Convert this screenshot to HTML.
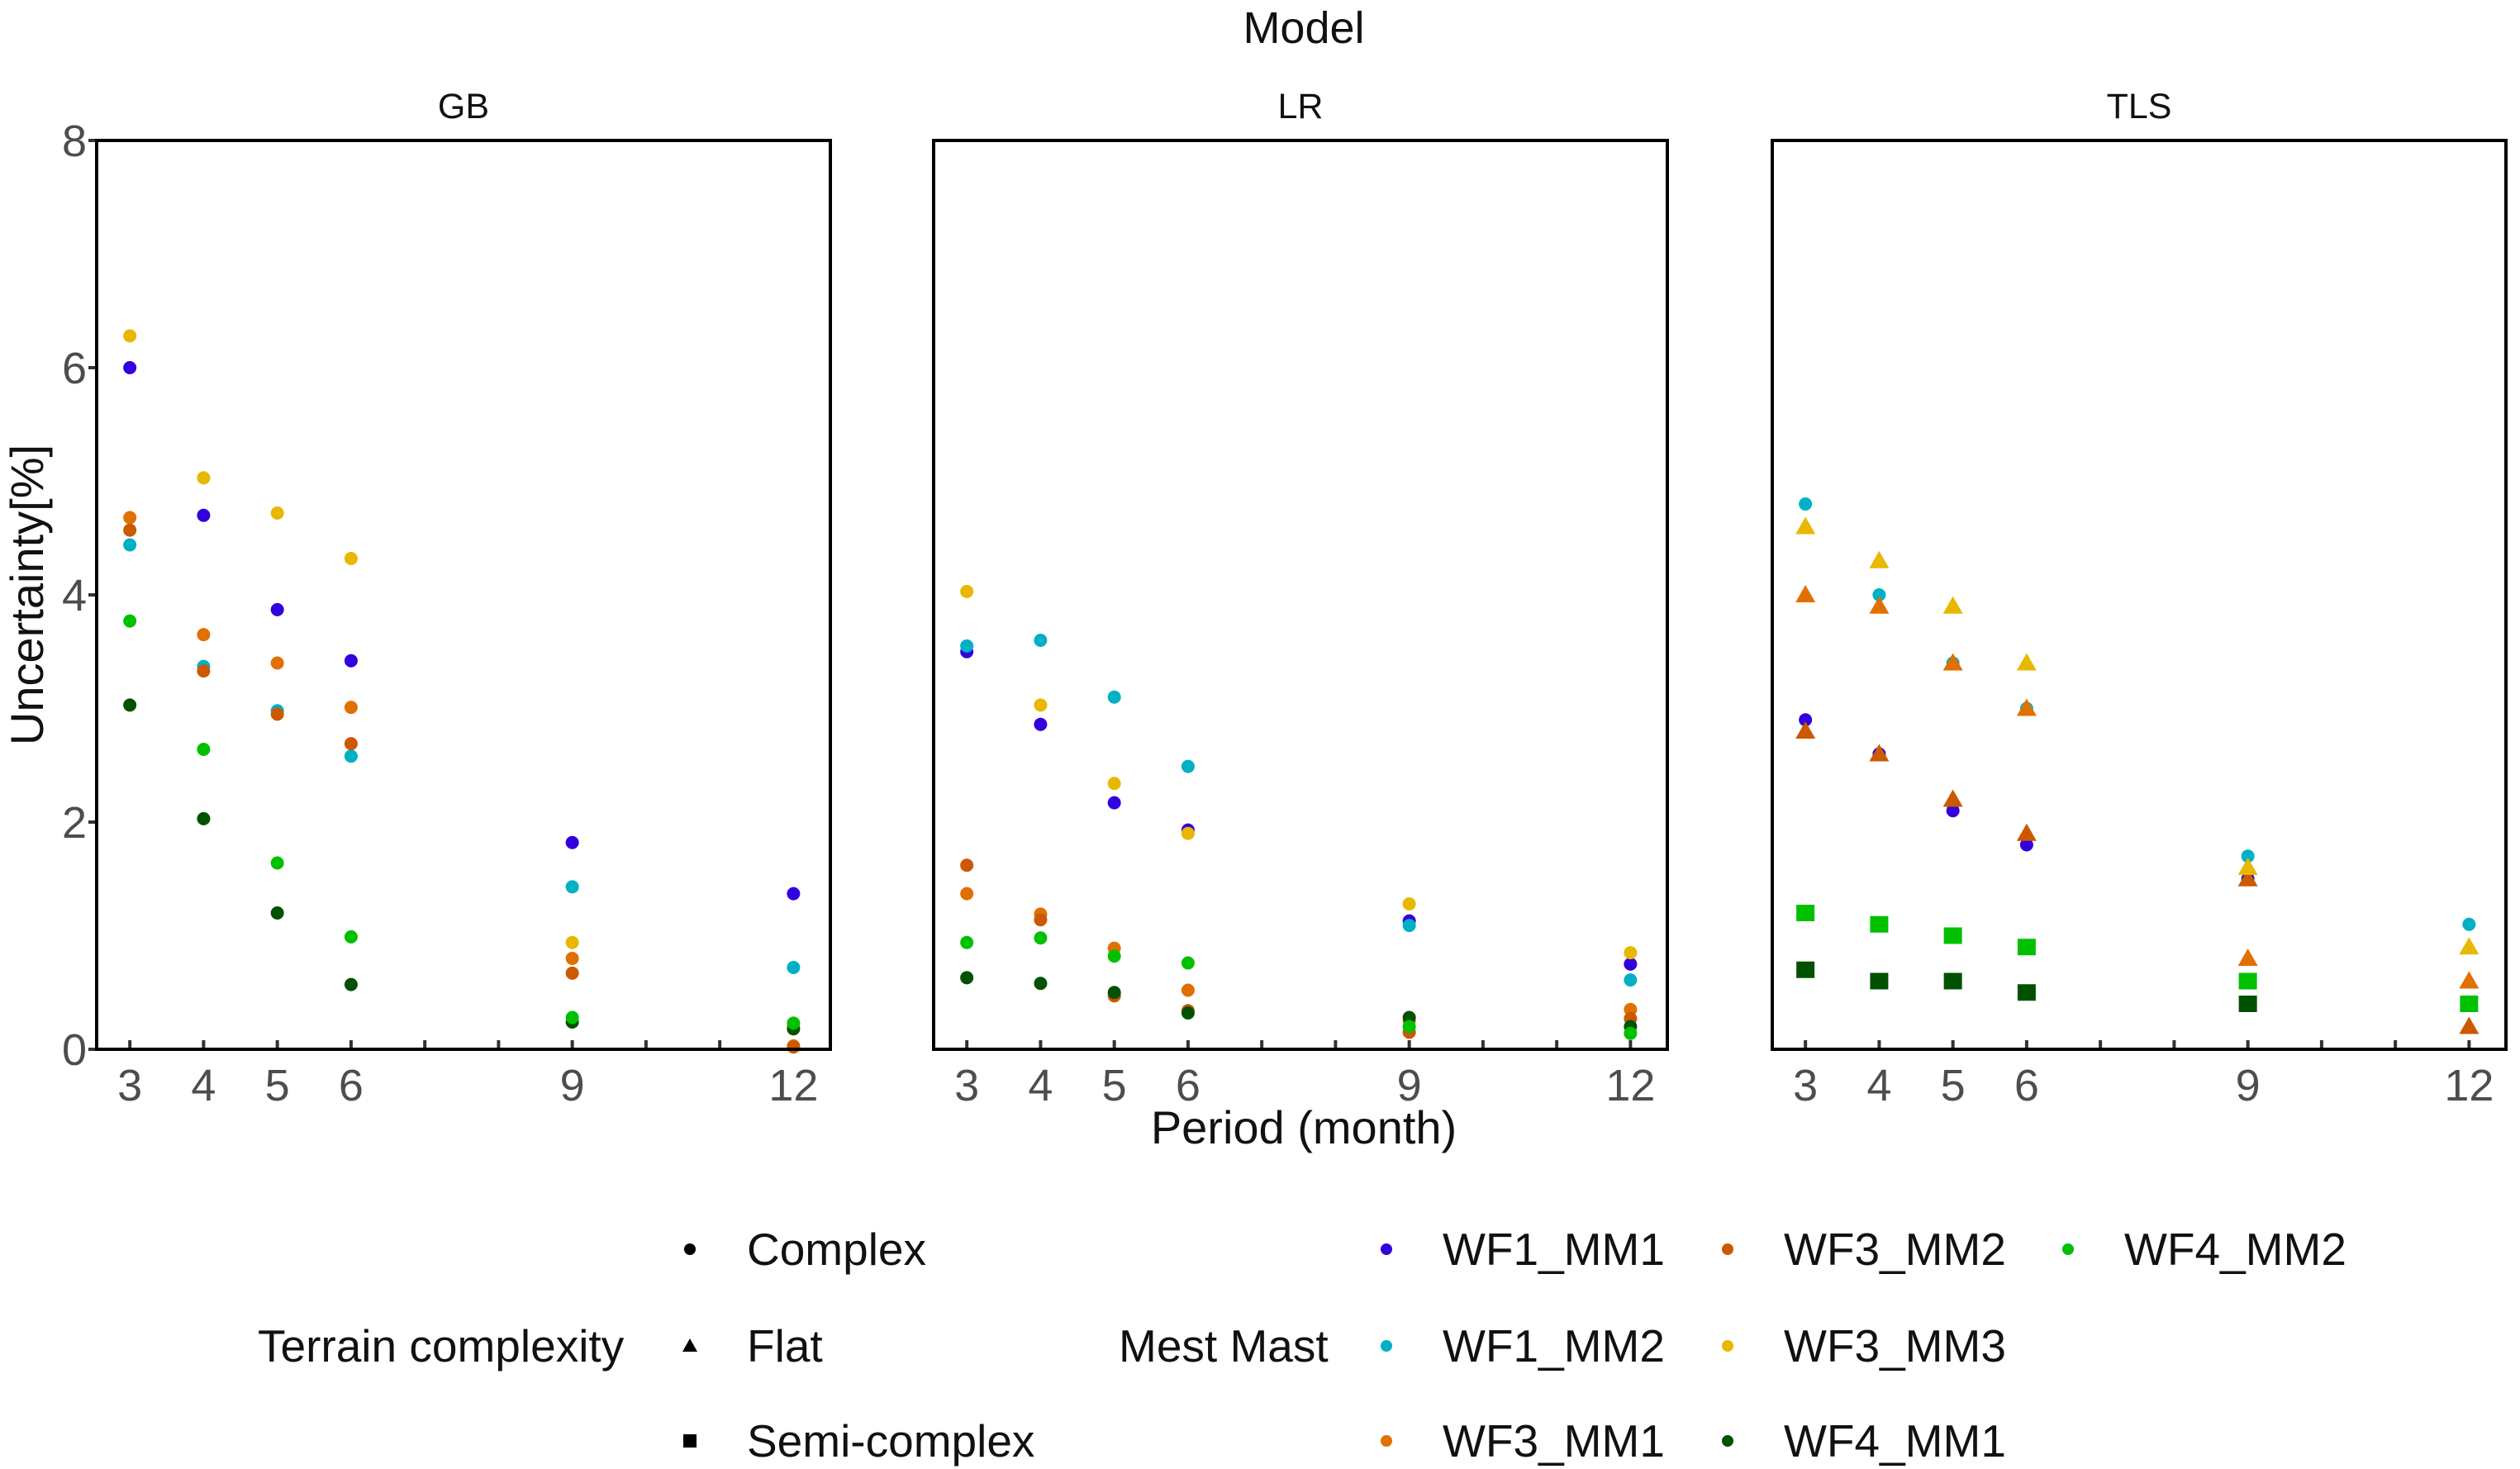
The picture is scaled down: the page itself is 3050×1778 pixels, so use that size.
<!DOCTYPE html>
<html><head><meta charset="utf-8"><style>
html,body{margin:0;padding:0;background:#fff;}
svg{display:block;font-family:"Liberation Sans",Arial,sans-serif;}
</style></head><body>
<svg id="chart" width="3050" height="1778" viewBox="0 0 3050 1778" xmlns="http://www.w3.org/2000/svg">
<text x="1578" y="52" font-size="54" text-anchor="middle" fill="#111">Model</text>
<text x="1578" y="1384" font-size="56" text-anchor="middle" fill="#111">Period (month)</text>
<text transform="translate(52,720) rotate(-90)" font-size="56" text-anchor="middle" fill="#111">Uncertainty[%]</text>
<g id="panels"></g>
<g id="legend"></g>
</svg>
<script>
const panelNames = ["GB","LR","TLS"];
const periods = [3,4,5,6,9,12];
const seriesNames = ["WF1_MM1","WF1_MM2","WF3_MM1","WF3_MM2","WF3_MM3","WF4_MM1","WF4_MM2"];
const seriesColors = ["#3300dd","#00b0c4","#e07000","#cc5800","#e8b800","#005200","#00c000"];
const yTicks = [0,2,4,6,8];
const xTicks = [3,4,5,6,7,8,9,10,11,12];
const xTickLabels = [3,4,5,6,9,12];
const gbWF1_MM1 = [6.0,4.7,3.87,3.42,1.82,1.37];
const gbWF1_MM2 = [4.44,3.37,2.98,2.58,1.43,0.72];
const gbWF3_MM1 = [4.68,3.65,3.4,3.01,0.8,0.03];
const gbWF3_MM2 = [4.57,3.33,2.95,2.69,0.67,0.02];
const gbWF3_MM3 = [6.28,5.03,4.72,4.32,0.94,0.2];
const gbWF4_MM1 = [3.03,2.03,1.2,0.57,0.24,0.18];
const gbWF4_MM2 = [3.77,2.64,1.64,0.99,0.28,0.23];
const lrWF1_MM1 = [3.5,2.86,2.17,1.93,1.13,0.75];
const lrWF1_MM2 = [3.55,3.6,3.1,2.49,1.09,0.61];
const lrWF3_MM1 = [1.37,1.19,0.89,0.52,0.25,0.35];
const lrWF3_MM2 = [1.62,1.14,0.47,0.34,0.15,0.27];
const lrWF3_MM3 = [4.03,3.03,2.34,1.9,1.28,0.85];
const lrWF4_MM1 = [0.63,0.58,0.5,0.32,0.28,0.2];
const lrWF4_MM2 = [0.94,0.98,0.82,0.76,0.2,0.14];
const tlsWF1_MM1 = [2.9,2.6,2.1,1.8,1.5,null];
const tlsWF1_MM2 = [4.8,4.0,3.4,3.0,1.7,1.1];
const tlsWF3_MM1 = [4.0,3.9,3.4,3.0,0.8,0.6];
const tlsWF3_MM2 = [2.8,2.6,2.2,1.9,1.5,0.2];
const tlsWF3_MM3 = [4.6,4.3,3.9,3.4,1.6,0.9];
const tlsWF4_MM1 = [0.7,0.6,0.6,0.5,0.4,null];
const tlsWF4_MM2 = [1.2,1.1,1.0,0.9,0.6,0.4];
const panelData = [
  [gbWF1_MM1,gbWF1_MM2,gbWF3_MM1,gbWF3_MM2,gbWF3_MM3,gbWF4_MM1,gbWF4_MM2],
  [lrWF1_MM1,lrWF1_MM2,lrWF3_MM1,lrWF3_MM2,lrWF3_MM3,lrWF4_MM1,lrWF4_MM2],
  [tlsWF1_MM1,tlsWF1_MM2,tlsWF3_MM1,tlsWF3_MM2,tlsWF3_MM3,tlsWF4_MM1,tlsWF4_MM2]
];
const tlsShapes = ["circle","circle","triangle","triangle","triangle","square","square"];

const NS = "http://www.w3.org/2000/svg";
const panelLefts = [117,1130,2145];
const PW = 888, PT = 170, PB = 1270;
const xMin = 2.55, xMax = 12.5, yMin = 0, yMax = 8;
function xs(p, v){ return panelLefts[p] + (v - xMin) / (xMax - xMin) * PW; }
function ys(v){ return PB - (v - yMin) / (yMax - yMin) * (PB - PT); }
function mk(tag, attrs, parent){ const e = document.createElementNS(NS, tag); for (const k in attrs) e.setAttribute(k, attrs[k]); parent.appendChild(e); return e; }

function drawShape(shape, cx, cy, color, parent){
  let e;
  if (shape === "circle") e = mk("circle", {cx:cx, cy:cy, r:8, fill:color}, parent);
  else if (shape === "triangle") e = mk("polygon", {points:`${cx},${cy-12} ${cx-12},${cy+9} ${cx+12},${cy+9}`, fill:color}, parent);
  else e = mk("rect", {x:cx-11, y:cy-10, width:22, height:20, fill:color}, parent);
  return e;
}

const panels = document.getElementById("panels");
panelNames.forEach((name, p) => {
  const g = mk("g", {}, panels);
  
  
  const t = mk("text", {x: panelLefts[p] + PW/2, y: 143, "font-size": 43, "text-anchor": "middle", fill: "#111"}, g);
  t.textContent = name;
  
  
  xTicks.forEach(v => {
    const tk = mk("line", {x1: xs(p, v), x2: xs(p, v), y1: PB, y2: PB - 11, stroke: "#333", "stroke-width": 4}, g);
    
    
  });
  xTickLabels.forEach(v => {
    const l = mk("text", {x: xs(p, v), y: 1332, "font-size": 54, "text-anchor": "middle", fill: "#4d4d4d"}, g);
    l.textContent = v;
    
    
  });
  if (p === 0) {
    yTicks.forEach(v => {
      const tk = mk("line", {x1: panelLefts[0] - 10, x2: panelLefts[0], y1: ys(v), y2: ys(v), stroke: "#333", "stroke-width": 4}, g);
      
      
      const l = mk("text", {x: panelLefts[0] - 12, y: ys(v) + 19, "font-size": 54, "text-anchor": "end", fill: "#4d4d4d"}, g);
      l.textContent = v;
      
      
    });
  }
  panelData[p].forEach((vals, s) => {
    const shape = p === 2 ? tlsShapes[s] : "circle";
    vals.forEach((v, i) => {
      if (v === null) return;
      const m = drawShape(shape, xs(p, periods[i]), ys(v), seriesColors[s], g);
      
      
    });
  });
  const fr = mk("rect", {x: panelLefts[p], y: PT, width: PW, height: PB - PT, fill: "none", stroke: "#000", "stroke-width": 4}, g);
  
  
});

const lg = document.getElementById("legend");
const rowsY = [1512, 1629, 1744];
function ltext(x, y, s){ const t = mk("text", {x:x, y:y+19, "font-size":55, fill:"#111"}, lg); t.textContent = s; return t; }
const tt = ltext(312, rowsY[1], "Terrain complexity");


const terrainLabels = ["Complex","Flat","Semi-complex"];
const terrainShapes = ["circle","triangle","square"];
terrainLabels.forEach((lab, i) => {
  const sh = terrainShapes[i];
  let e;
  if (sh === "circle") e = mk("circle", {cx:835, cy:rowsY[i], r:7, fill:"#000"}, lg);
  else if (sh === "triangle") e = mk("polygon", {points:`835,${rowsY[i]-9} 826,${rowsY[i]+7} 844,${rowsY[i]+7}`, fill:"#000"}, lg);
  else e = mk("rect", {x:827, y:rowsY[i]-8, width:16, height:16, fill:"#000"}, lg);
  
  
  const t = ltext(904, rowsY[i], lab);
  
  
});
const mt = ltext(1354, rowsY[1], "Mest Mast");


const colSym = [1678, 2091, 2503];
seriesNames.forEach((nm, i) => {
  const c = Math.floor(i / 3), r = i % 3;
  const e = mk("circle", {cx: colSym[c], cy: rowsY[r], r: 7, fill: seriesColors[i]}, lg);
  
  
  const t = ltext(colSym[c] + 68, rowsY[r], nm);
  
  
});
</script>
</body></html>
